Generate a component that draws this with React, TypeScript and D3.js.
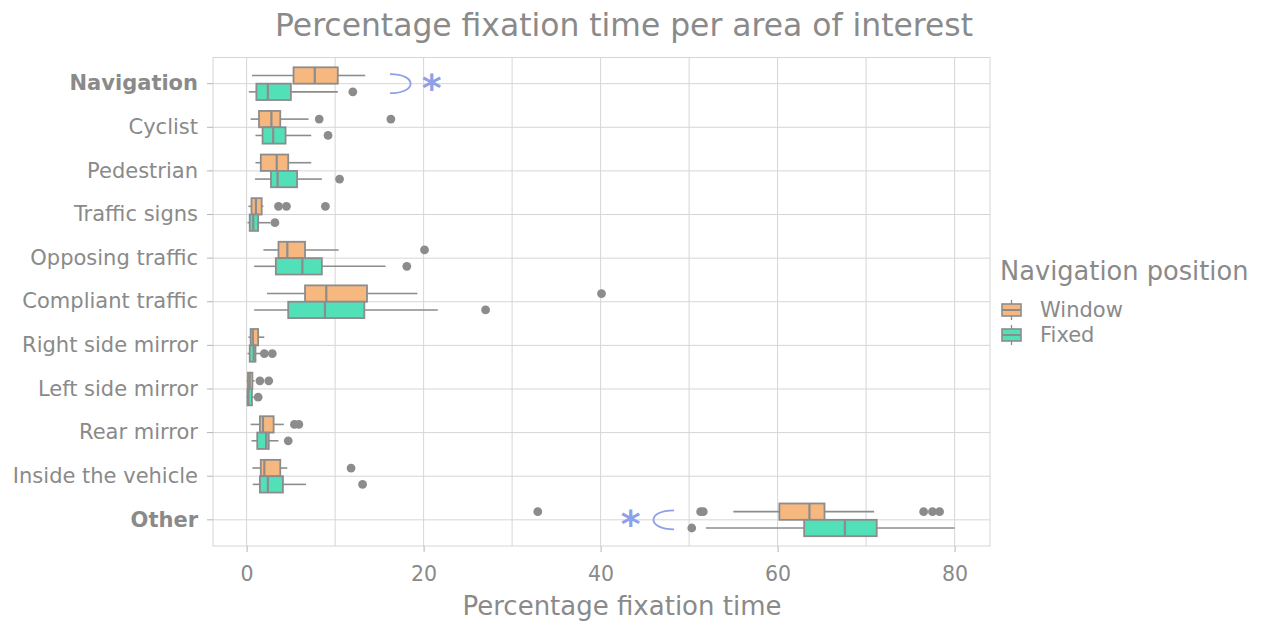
import React, { useEffect, useRef } from 'react';
import * as d3 from 'd3';

// areas of interest, top to bottom
const categories = [
  'Navigation', 'Cyclist', 'Pedestrian', 'Traffic signs', 'Opposing traffic',
  'Compliant traffic', 'Right side mirror', 'Left side mirror', 'Rear mirror',
  'Inside the vehicle', 'Other',
];
const boldCategories = ['Navigation', 'Other'];

const groups = ['Window', 'Fixed'];
const groupColors = ['#f7b880', '#52e0b9'];

// [lower whisker, q1, median, q3, upper whisker]
const windowBoxes = [
  [0.6, 5.3, 7.7, 10.3, 13.4],
  [0.45, 1.4, 2.8, 3.8, 7.0],
  [1.0, 1.6, 3.4, 4.7, 7.3],
  [0.2, 0.55, 1.05, 1.7, 1.9],
  [1.9, 3.6, 4.6, 6.6, 10.4],
  [2.3, 6.6, 9.0, 13.6, 19.3],
  [0.2, 0.45, 0.7, 1.3, 2.0],
  [0.0, 0.15, 0.35, 0.65, 0.9],
  [0.45, 1.5, 1.85, 3.05, 4.2],
  [0.65, 1.6, 2.0, 3.8, 4.6],
  [55.0, 60.2, 63.6, 65.3, 70.9],
];
const fixedBoxes = [
  [0.25, 1.1, 2.4, 5.0, 10.3],
  [1.0, 1.8, 3.0, 4.4, 7.3],
  [0.95, 2.75, 3.5, 5.7, 8.5],
  [0.1, 0.35, 0.75, 1.3, 2.7],
  [0.85, 3.3, 6.3, 8.5, 15.7],
  [0.85, 4.7, 8.85, 13.3, 21.6],
  [0.1, 0.35, 0.8, 1.0, 1.6],
  [0.0, 0.1, 0.2, 0.6, 0.8],
  [0.55, 1.2, 2.2, 2.5, 3.6],
  [0.7, 1.5, 2.4, 4.1, 6.7],
  [51.9, 63.0, 67.6, 71.2, 80.0],
];
const windowOutliers = [
  [], [8.2, 16.3], [], [3.6, 4.5, 8.9], [20.1], [40.1], [], [1.5, 2.5],
  [5.4, 5.9], [11.8], [32.9, 51.3, 51.6, 76.5, 77.5, 78.3],
];
const fixedOutliers = [
  [12.0], [9.2], [10.5], [3.2], [18.1], [27.0], [2.0, 2.9], [1.3],
  [4.7], [13.1], [50.3],
];

const xTicks = [0, 20, 40, 60, 80];
const xMinor = [10, 30, 50, 70];

// significance markers: category, bracket start value, bracket tip value, star value
const sigCategories = ['Navigation', 'Other'];
const sigBracketStart = [16.2, 48.3];
const sigBracketTip = [18.9, 45.6];
const sigStar = [20.9, 43.4];

const font = '"DejaVu Sans", Verdana, sans-serif';
const textColor = '#8a8a8a';
const lineColor = '#8c8c8c';
const gridColor = '#d6d6d6';
const sigColor = '#8ea1e8';

const App = () => {
  const svgRef = useRef<SVGSVGElement>(null);

  useEffect(() => {
    const width = 1262;
    const height = 621;
    const left = 213, right = 990, top = 57.5, bottom = 546;

    const svg = d3.select(svgRef.current)
      .attr('width', width)
      .attr('height', height);
    svg.selectAll('*').remove();

    const x = d3.scaleLinear().domain([-3.8, 84]).range([left, right]);
    const y = d3.scaleBand().domain(categories).range([top, bottom])
      .paddingInner(0).paddingOuter(0.1);
    const band = y.bandwidth();
    const boxW = band * 0.75;
    const sub = d3.scaleBand().domain(groups).range([-boxW / 2, boxW / 2]);
    const yc = (c: string) => (y(c) as number) + band / 2;

    // grid
    const grid = svg.append('g');
    grid.selectAll('.vx')
      .data([...xMinor, ...xTicks])
      .enter().append('line')
      .attr('x1', d => x(d)).attr('x2', d => x(d))
      .attr('y1', top).attr('y2', bottom)
      .attr('stroke', gridColor).attr('stroke-width', 1);
    grid.selectAll('.hy')
      .data(categories)
      .enter().append('line')
      .attr('x1', left).attr('x2', right)
      .attr('y1', d => yc(d)).attr('y2', d => yc(d))
      .attr('stroke', gridColor).attr('stroke-width', 1);
    svg.append('rect')
      .attr('x', left).attr('y', top)
      .attr('width', right - left).attr('height', bottom - top)
      .attr('fill', 'none').attr('stroke', gridColor).attr('stroke-width', 1);

    // axes
    const xAxis = svg.append('g')
      .attr('transform', `translate(0,${bottom})`)
      .call(d3.axisBottom(x).tickValues(xTicks).tickSize(6).tickPadding(14));
    xAxis.select('.domain').remove();
    xAxis.selectAll('line').attr('stroke', '#b5b5b5');
    xAxis.selectAll('text')
      .attr('fill', textColor).attr('font-family', font).attr('font-size', 20.5);

    const yAxis = svg.append('g')
      .attr('transform', `translate(${left},0)`)
      .call(d3.axisLeft(y).tickSize(6).tickPadding(9));
    yAxis.select('.domain').remove();
    yAxis.selectAll('line').attr('stroke', '#b5b5b5');
    yAxis.selectAll('text')
      .attr('fill', textColor).attr('font-family', font).attr('font-size', 21)
      .attr('font-weight', (d: any) => (boldCategories.includes(d) ? 'bold' : 'normal'));

    // boxes
    const allBoxes = [windowBoxes, fixedBoxes];
    const allOut = [windowOutliers, fixedOutliers];
    groups.forEach((g, gi) => {
      const layer = svg.append('g');
      const h = sub.bandwidth();
      categories.forEach((c, ci) => {
        const [lo, q1, med, q3, hi] = allBoxes[gi][ci];
        const cy = yc(c) + (sub(g) as number) + h / 2;
        layer.append('line')
          .attr('x1', x(lo)).attr('x2', x(q1)).attr('y1', cy).attr('y2', cy)
          .attr('stroke', lineColor).attr('stroke-width', 1.6);
        layer.append('line')
          .attr('x1', x(q3)).attr('x2', x(hi)).attr('y1', cy).attr('y2', cy)
          .attr('stroke', lineColor).attr('stroke-width', 1.6);
        layer.append('rect')
          .attr('x', x(q1)).attr('y', cy - h / 2)
          .attr('width', Math.max(x(q3) - x(q1), 1)).attr('height', h)
          .attr('fill', groupColors[gi])
          .attr('stroke', lineColor).attr('stroke-width', 1.8);
        layer.append('line')
          .attr('x1', x(med)).attr('x2', x(med))
          .attr('y1', cy - h / 2).attr('y2', cy + h / 2)
          .attr('stroke', lineColor).attr('stroke-width', 2.2);
        layer.selectAll(null)
          .data(allOut[gi][ci])
          .enter().append('circle')
          .attr('cx', d => x(d)).attr('cy', cy).attr('r', 4.4)
          .attr('fill', '#8c8c8c');
      });
    });

    // significance brackets and stars
    sigCategories.forEach((c, i) => {
      const cy = yc(c);
      const x0 = x(sigBracketStart[i]);
      const x1 = x(sigBracketTip[i]);
      const path = d3.path();
      path.moveTo(x0, cy - 9.5);
      path.bezierCurveTo(x1 + (x1 - x0) * 0.15, cy - 9.5, x1 + (x1 - x0) * 0.15, cy + 9.5, x0, cy + 9.5);
      svg.append('path')
        .attr('d', path.toString())
        .attr('fill', 'none').attr('stroke', sigColor).attr('stroke-width', 1.8);
      svg.append('text')
        .attr('x', x(sigStar[i])).attr('y', cy + 17)
        .attr('text-anchor', 'middle')
        .attr('font-family', font).attr('font-size', 38).attr('font-weight', 'bold')
        .attr('fill', sigColor)
        .text('*');
    });

    // titles
    svg.append('text')
      .attr('x', 624).attr('y', 36)
      .attr('text-anchor', 'middle')
      .attr('font-family', font).attr('font-size', 31.4)
      .attr('fill', textColor)
      .text('Percentage fixation time per area of interest');
    svg.append('text')
      .attr('x', 622).attr('y', 615)
      .attr('text-anchor', 'middle')
      .attr('font-family', font).attr('font-size', 26)
      .attr('fill', textColor)
      .text('Percentage fixation time');

    // legend
    const legend = svg.append('g').attr('transform', 'translate(1000,0)');
    legend.append('text')
      .attr('x', 0).attr('y', 280)
      .attr('font-family', font).attr('font-size', 25.7)
      .attr('fill', textColor)
      .text('Navigation position');
    groups.forEach((g, gi) => {
      const cy = 310 + gi * 25;
      legend.append('line')
        .attr('x1', 11.5).attr('x2', 11.5).attr('y1', cy - 10).attr('y2', cy + 10)
        .attr('stroke', lineColor).attr('stroke-width', 1.3);
      legend.append('rect')
        .attr('x', 2).attr('y', cy - 6).attr('width', 19).attr('height', 12)
        .attr('fill', groupColors[gi]).attr('stroke', lineColor).attr('stroke-width', 1.6);
      legend.append('line')
        .attr('x1', 2).attr('x2', 21).attr('y1', cy).attr('y2', cy)
        .attr('stroke', lineColor).attr('stroke-width', 2);
      legend.append('text')
        .attr('x', 40).attr('y', cy).attr('dy', '0.35em')
        .attr('font-family', font).attr('font-size', 21)
        .attr('fill', textColor)
        .text(g);
    });
  }, []);

  return <svg ref={svgRef} style={{ position: 'absolute', left: 0, top: 0 }} />;
};

export default App;
